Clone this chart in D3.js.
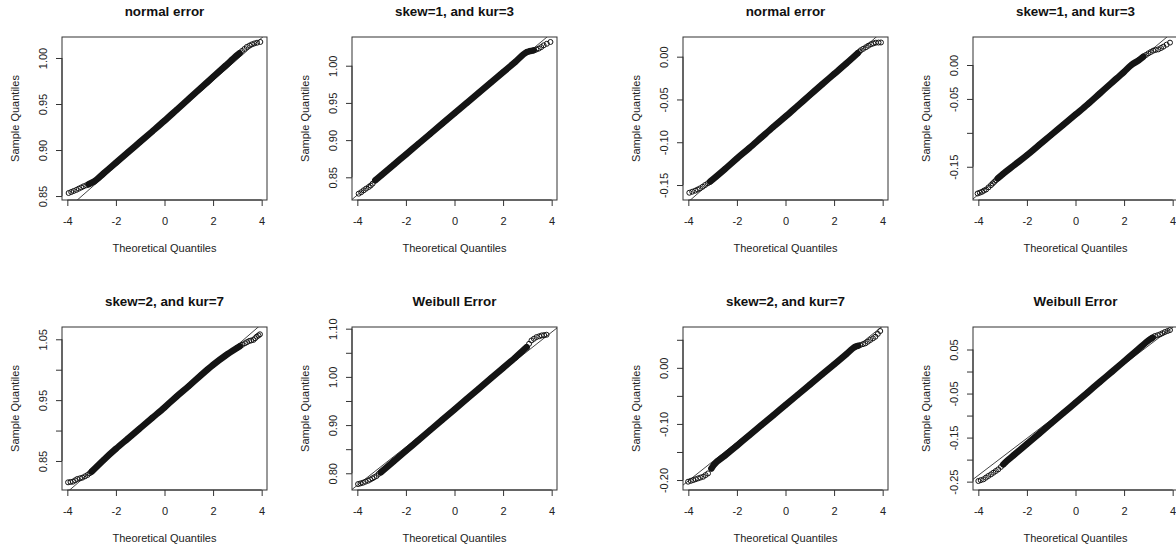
<!DOCTYPE html>
<html><head><meta charset="utf-8">
<script src="https://cdn.jsdelivr.net/npm/d3@7"></script>
<style>
body{margin:0;background:#fff}
svg{display:block}
text{font-family:"Liberation Sans",Arial,Helvetica,sans-serif}
</style>
</head><body>
<svg id="chart" width="1176" height="550"></svg>
<script>
// ---- data ----
const titles = ["normal error", "skew=1, and kur=3", "normal error", "skew=1, and kur=3",
                "skew=2, and kur=7", "Weibull Error", "skew=2, and kur=7", "Weibull Error"];
const xLabel = "Theoretical Quantiles";
const yLabel = "Sample Quantiles";
const xTicks = [-4, -2, 0, 2, 4];
const xDomain = [-4.22, 4.22];

const yDomains = [[0.8457, 1.0228], [0.8195, 1.0386], [-0.1675, 0.023], [-0.199, 0.0413],
                  [0.8023, 1.0702], [0.7653, 1.1035], [-0.2178, 0.0728], [-0.269, 0.1011]];
const yTicks = [[0.85, 0.90, 0.95, 1.00], [0.85, 0.90, 0.95, 1.00],
                [-0.15, -0.10, -0.05, 0.00], [-0.15, -0.10, -0.05, 0.00],
                [0.85, 0.90, 0.95, 1.00, 1.05], [0.80, 0.85, 0.90, 0.95, 1.00, 1.05, 1.10],
                [-0.20, -0.15, -0.10, -0.05, 0.00, 0.05], [-0.25, -0.20, -0.15, -0.10, -0.05, 0.00, 0.05]];
const yTickLabels = [["0.85", "0.90", "0.95", "1.00"], ["0.85", "0.90", "0.95", "1.00"],
                     ["-0.15", "-0.10", "-0.05", "0.00"], ["-0.15", "", "-0.05", "0.00"],
                     ["0.85", "", "0.95", "", "1.05"], ["0.80", "", "0.90", "", "1.00", "", "1.10"],
                     ["-0.20", "", "-0.10", "", "0.00", ""], ["-0.25", "", "-0.15", "", "-0.05", "", "0.05"]];

// qqline: [intercept, slope]
const qqLines = [[0.929, 0.0232], [0.935, 0.0272], [-0.070, 0.0249], [-0.0713, 0.0299],
                 [0.937, 0.0345], [0.934, 0.0397], [-0.0635, 0.0345], [-0.0676, 0.042]];
// range of theoretical quantiles where the points merge into a solid band
const denseRanges = [[-3.12, 3.09], [-3.26, 3.26], [-3.1, 2.97], [-3.2, 2.79],
                     [-3.0, 3.1], [-3.03, 2.97], [-3.05, 2.98], [-2.97, 3.17]];

const theoA = [-3.946,-3.84,-3.74,-3.63,-3.53,-3.43,-3.33,-3.22,-3.12,-2.9,-2.5,-2,-1.5,-1,-0.5,0,0.5,1,1.5,2,2.5,2.985,3.09,3.19,3.29,3.39,3.5,3.6,3.7,3.81,3.945];
const sampleA = [0.8533,0.8544,0.8555,0.8567,0.8580,0.8593,0.8606,0.8617,0.8628,0.8657,0.8748,0.8862,0.8975,0.9089,0.9203,0.9318,0.9437,0.9556,0.9675,0.9794,0.9913,1.0029,1.0052,1.0076,1.0098,1.0120,1.0135,1.0148,1.0158,1.0166,1.0174];

const theoB = [-3.945,-3.84,-3.74,-3.64,-3.53,-3.45,-3.37,-3.26,-3,-2.5,-2,-1.5,-1,-0.5,0,0.5,1,1.5,2,2.5,2.985,3.1,3.26,3.37,3.47,3.57,3.67,3.8,3.95];
const sampleB = [0.828,0.830,0.8325,0.8348,0.837,0.839,0.8415,0.846,0.8532,0.867,0.8808,0.8946,0.9084,0.9222,0.936,0.9498,0.9636,0.9774,0.9912,1.005,1.0184,1.0195,1.0207,1.0218,1.023,1.025,1.0274,1.0295,1.0319];

const theoC = [-3.96,-3.84,-3.72,-3.62,-3.52,-3.41,-3.31,-3.2,-3.1,-2.5,-2,-1.5,-1,-0.5,0,0.5,1,1.5,2,2.5,2.97,3.04,3.1,3.2,3.31,3.41,3.52,3.62,3.72,3.83,3.93];
const sampleC = [-0.159,-0.1578,-0.1566,-0.1553,-0.1539,-0.152,-0.150,-0.148,-0.146,-0.1315,-0.119,-0.107,-0.0945,-0.082,-0.070,-0.0575,-0.045,-0.0325,-0.0203,-0.008,0.004,0.0058,0.0075,0.0092,0.011,0.0128,0.0145,0.0155,0.0164,0.0165,0.0166];

const theoD = [-4.03,-3.94,-3.85,-3.77,-3.68,-3.58,-3.48,-3.41,-3.34,-3.27,-3.2,-3.0,-2.5,-2,-1.5,-1,-0.5,0,0.5,1,1.5,2,2.3,2.6,2.79,2.9,3.0,3.1,3.2,3.3,3.41,3.52,3.62,3.75,3.89];
const sampleD = [-0.1894,-0.1882,-0.1869,-0.1852,-0.1835,-0.1803,-0.1771,-0.1746,-0.1722,-0.1697,-0.1672,-0.161,-0.147,-0.133,-0.118,-0.103,-0.088,-0.073,-0.058,-0.042,-0.026,-0.010,0.000,0.007,0.0123,0.0148,0.0172,0.0192,0.0212,0.0222,0.0231,0.0251,0.0271,0.030,0.033];

const theoE = [-3.97,-3.87,-3.77,-3.68,-3.59,-3.48,-3.38,-3.27,-3.17,-3.08,-3.0,-2.5,-2,-1.5,-1,-0.5,0,0.5,1,1.5,2,2.5,3.0,3.1,3.2,3.31,3.4,3.49,3.57,3.66,3.73,3.8,3.87,3.93];
const sampleE = [0.8149,0.8155,0.816,0.8182,0.8204,0.8215,0.8226,0.8248,0.827,0.8298,0.8325,0.852,0.870,0.887,0.904,0.921,0.938,0.956,0.973,0.991,1.008,1.023,1.036,1.0385,1.041,1.0434,1.0454,1.0473,1.0481,1.049,1.0517,1.0544,1.0563,1.0582];

const theoF = [-3.97,-3.87,-3.77,-3.67,-3.56,-3.47,-3.38,-3.3,-3.21,-3.12,-3.03,-2.5,-2,-1.5,-1,-0.5,0,0.5,1,1.5,2,2.5,2.97,3.07,3.17,3.27,3.38,3.49,3.59,3.69,3.79];
const sampleF = [0.7776,0.779,0.7804,0.7825,0.7846,0.787,0.7895,0.7919,0.7943,0.7988,0.8022,0.825,0.8465,0.868,0.8895,0.911,0.9325,0.954,0.9755,0.997,1.0185,1.04,1.0616,1.0686,1.0756,1.0791,1.0826,1.0843,1.086,1.0867,1.0874];

const theoG = [-4.01,-3.90,-3.80,-3.70,-3.60,-3.50,-3.39,-3.29,-3.19,-3.05,-2.957,-2.5,-2,-1.5,-1,-0.5,0,0.5,1,1.5,2,2.5,2.874,2.98,3.08,3.19,3.29,3.39,3.49,3.6,3.70,3.8,3.90];
const sampleG = [-0.203,-0.2015,-0.2001,-0.1986,-0.1971,-0.1956,-0.1941,-0.1912,-0.1882,-0.1793,-0.1733,-0.1568,-0.1387,-0.1206,-0.1025,-0.0844,-0.0663,-0.0482,-0.0301,-0.012,0.0061,0.0242,0.0377,0.0392,0.0407,0.0422,0.0437,0.0466,0.0496,0.0525,0.0555,0.0605,0.0656];

const theoH = [-4.00,-3.90,-3.79,-3.69,-3.59,-3.48,-3.38,-3.28,-3.18,-3.07,-2.97,-2.903,-2.5,-2,-1.5,-1,-0.5,0,0.5,1,1.5,2,2.5,3.067,3.17,3.27,3.38,3.48,3.58,3.68,3.79,3.89];
const sampleH = [-0.2486,-0.2467,-0.2448,-0.241,-0.2372,-0.2335,-0.2297,-0.2259,-0.2221,-0.2165,-0.2108,-0.207,-0.188,-0.1646,-0.1412,-0.1177,-0.0943,-0.0708,-0.0474,-0.0239,-0.0005,0.023,0.0465,0.0731,0.0769,0.0806,0.0825,0.0844,0.087,0.0897,0.092,0.0942];

const theos = [theoA, theoB, theoC, theoD, theoE, theoF, theoG, theoH];
const samples = [sampleA, sampleB, sampleC, sampleD, sampleE, sampleF, sampleG, sampleH];

// ---- layout ----
const colLeft = [62, 352, 683, 973];
const rowTop = [37, 327];
const W = 205, H = 163;
const ink = "#141414";
const axisInk = "#333";

const svg = d3.select("#chart");
svg.append("rect").attr("width", 1176).attr("height", 550).attr("fill", "#fff");

titles.forEach((title, i) => {
  const left = colLeft[i % 4], top = rowTop[Math.floor(i / 4)];
  const x = d3.scaleLinear().domain(xDomain).range([left, left + W]);
  const y = d3.scaleLinear().domain(yDomains[i]).range([top + H, top]);
  const g = svg.append("g");

  const clipId = "clip" + i;
  svg.append("clipPath").attr("id", clipId)
    .append("rect").attr("x", left).attr("y", top).attr("width", W).attr("height", H);

  const pts = theos[i].map((t, k) => ({t, s: samples[i][k]}));
  const plot = g.append("g").attr("clip-path", `url(#${clipId})`);

  // qqline
  const [a, b] = qqLines[i];
  plot.append("line")
    .attr("x1", x(xDomain[0])).attr("y1", y(a + b * xDomain[0]))
    .attr("x2", x(xDomain[1])).attr("y2", y(a + b * xDomain[1]))
    .attr("stroke", "#444").attr("stroke-width", 1);

  // dense band of overlapping points
  const dr = denseRanges[i];
  const densePts = pts.filter(p => p.t >= dr[0] && p.t <= dr[1]);
  plot.append("path")
    .attr("d", d3.line().x(p => x(p.t)).y(p => y(p.s)).curve(d3.curveMonotoneX)(densePts))
    .attr("fill", "none").attr("stroke", ink).attr("stroke-width", 6.5)
    .attr("stroke-linecap", "round").attr("stroke-linejoin", "round");

  // individual open circles
  plot.selectAll("circle").data(pts).join("circle")
    .attr("cx", p => x(p.t)).attr("cy", p => y(p.s)).attr("r", 2.5)
    .attr("fill", "none").attr("stroke", ink).attr("stroke-width", 1);

  // box
  g.append("rect").attr("x", left).attr("y", top).attr("width", W).attr("height", H)
    .attr("fill", "none").attr("stroke", axisInk).attr("stroke-width", 1);

  // x axis
  const xa = g.append("g").attr("transform", `translate(0,${top + H})`)
    .call(d3.axisBottom(x).tickValues(xTicks).tickSize(6).tickSizeOuter(0).tickFormat(d => String(d)));
  xa.select(".domain").attr("d", `M${x(xTicks[0])},0H${x(xTicks[xTicks.length - 1])}`).attr("stroke", axisInk);
  xa.selectAll(".tick line").attr("stroke", axisInk);
  xa.selectAll(".tick text").attr("y", 25).attr("dy", 0)
    .attr("font-size", 11).attr("fill", "#222").attr("font-family", null);

  // y axis
  const yl = yTickLabels[i];
  const ya = g.append("g").attr("transform", `translate(${left},0)`)
    .call(d3.axisLeft(y).tickValues(yTicks[i]).tickSize(6).tickSizeOuter(0)
      .tickFormat((d, k) => yl[k]));
  const yt = yTicks[i];
  ya.select(".domain").attr("d", `M0,${y(yt[0])}V${y(yt[yt.length - 1])}`).attr("stroke", axisInk);
  ya.selectAll(".tick line").attr("stroke", axisInk);
  ya.selectAll(".tick text").attr("x", 0).attr("dy", 0)
    .attr("transform", "translate(-15,0) rotate(-90)")
    .attr("text-anchor", "middle")
    .attr("font-size", 11).attr("fill", "#222").attr("font-family", null);

  // titles
  g.append("text").attr("x", left + W / 2).attr("y", top - 21.5)
    .attr("text-anchor", "middle").attr("font-size", 13.4).attr("font-weight", "bold")
    .attr("fill", "#111").text(title);
  g.append("text").attr("x", left + W / 2).attr("y", top + H + 52)
    .attr("text-anchor", "middle").attr("font-size", 11).attr("fill", "#222").text(xLabel);
  g.append("text").attr("transform", `translate(${left - 43},${top + H / 2}) rotate(-90)`)
    .attr("text-anchor", "middle").attr("font-size", 11).attr("fill", "#222").text(yLabel);
});
</script>
</body></html>
